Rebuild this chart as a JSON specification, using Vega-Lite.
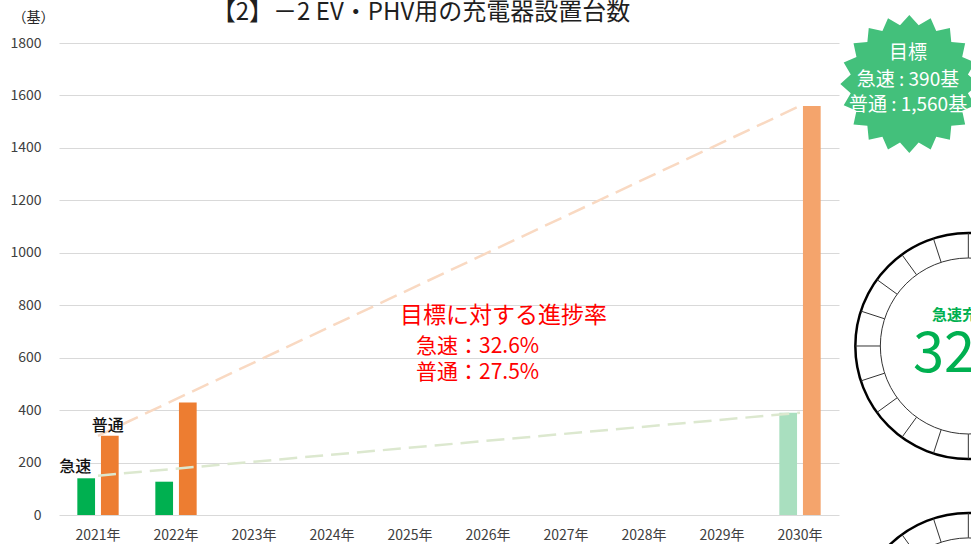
{
  "$schema": "https://vega.github.io/schema/vega-lite/v6.json",
  "width": 780,
  "height": 472,
  "autosize": "none",
  "padding": {"left": 59, "top": 43, "right": 132, "bottom": 29},
  "background": "white",
  "config": {
    "font": "Noto Sans CJK JP",
    "view": {"stroke": null},
    "axis": {"grid": true, "gridColor": "#d9d9d9", "gridWidth": 1, "domain": false, "ticks": false, "labelColor": "#404040", "labelFontSize": 14}
  },
  "title": {
    "text": "【2】－2 EV・PHV用の充電器設置台数",
    "fontSize": 24,
    "fontWeight": "normal",
    "color": "#1f1f1f",
    "offset": 0,
    "dy": 15,
    "dx": -28,
    "anchor": "middle"
  },
  "datasets": {
    "bars": [
      {"year": "2021年", "type": "急速", "kind": "急速", "value": 140},
      {"year": "2021年", "type": "普通", "kind": "普通", "value": 302},
      {"year": "2022年", "type": "急速", "kind": "急速", "value": 127},
      {"year": "2022年", "type": "普通", "kind": "普通", "value": 429},
      {"year": "2030年", "type": "急速", "kind": "急速目標", "value": 390},
      {"year": "2030年", "type": "普通", "kind": "普通目標", "value": 1560}
    ],
    "lines": [
      {"year": "2021年", "type": "急速", "value": 150},
      {"year": "2030年", "type": "急速", "value": 390},
      {"year": "2021年", "type": "普通", "value": 302},
      {"year": "2030年", "type": "普通", "value": 1560}
    ]
  },
  "encoding": {
    "x": {
      "field": "year",
      "type": "nominal",
      "scale": {"domain": ["2021年", "2022年", "2023年", "2024年", "2025年", "2026年", "2027年", "2028年", "2029年", "2030年"], "paddingInner": 0.47, "paddingOuter": 0.235},
      "axis": {"title": null, "labelAngle": 0, "grid": false, "labelPadding": 13}
    },
    "y": {
      "field": "value",
      "type": "quantitative",
      "scale": {"domain": [0, 1800]},
      "axis": {"values": [0, 200, 400, 600, 800, 1000, 1200, 1400, 1600, 1800], "format": "d", "title": "（基）", "titleAngle": 0, "titleAlign": "left", "titleBaseline": "middle", "titleX": -47, "titleY": -26, "titleFontSize": 14, "titleFontWeight": "normal", "titleColor": "#262626", "labelPadding": 18}
    }
  },
  "layer": [
    {
      "data": {"name": "bars"},
      "mark": {"type": "bar"},
      "encoding": {
        "xOffset": {"field": "type", "type": "nominal", "scale": {"domain": ["急速", "普通"], "paddingInner": 0.25}},
        "color": {"field": "kind", "type": "nominal", "scale": {"domain": ["急速", "普通", "急速目標", "普通目標"], "range": ["#00B050", "#ED7D31", "#A9DFBF", "#F4A46C"]}, "legend": null}
      }
    },
    {
      "data": {"name": "lines"},
      "mark": {"type": "line", "strokeDash": [18, 8], "strokeWidth": 2.5},
      "encoding": {
        "stroke": {"field": "type", "type": "nominal", "scale": {"domain": ["急速", "普通"], "range": ["#dce8cf", "#f9d9c2"]}, "legend": null}
      }
    },
    {
      "data": {"values": [{"year": "2021年", "type": "普通", "value": 302, "label": "普通"}]},
      "mark": {"type": "text", "baseline": "bottom", "dx": -2, "dy": -2, "fontSize": 16, "fontWeight": 500, "color": "#111"},
      "encoding": {"xOffset": {"field": "type", "type": "nominal"}, "text": {"field": "label"}}
    },
    {
      "data": {"values": [{"year": "2021年", "type": "急速", "value": 140, "label": "急速"}]},
      "mark": {"type": "text", "baseline": "bottom", "dx": -11, "dy": -3, "fontSize": 16, "fontWeight": 500, "color": "#111"},
      "encoding": {"xOffset": {"field": "type", "type": "nominal"}, "text": {"field": "label"}}
    },
    {
      "data": {"values": [{"year": "2025年", "value": 759, "label": "目標に対する進捗率"}]},
      "mark": {"type": "text", "align": "left", "baseline": "middle", "dx": -10, "fontSize": 23, "color": "#FF0000"},
      "encoding": {"text": {"field": "label"}}
    },
    {
      "data": {"values": [{"year": "2025年", "value": 642, "label": "急速：32.6%"}, {"year": "2025年", "value": 540, "label": "普通：27.5%"}]},
      "mark": {"type": "text", "align": "left", "baseline": "middle", "dx": 6, "fontSize": 21, "color": "#FF0000"},
      "encoding": {"text": {"field": "label"}}
    },
    {
      "data": {"values": [{"year": "2030年", "value": 1644}]},
      "mark": {"type": "point", "filled": true, "color": "#43C07B", "opacity": 1, "size": 19044, "shape": "M0,-1L.135,-.849L.309,-.951L.390,-.766L.588,-.809L.608,-.608L.809,-.588L.766,-.390L.951,-.309L.849,-.135L1,0L.849,.135L.951,.309L.766,.390L.809,.588L.608,.608L.588,.809L.390,.766L.309,.951L.135,.849L0,1L-.135,.849L-.309,.951L-.390,.766L-.588,.809L-.608,.608L-.809,.588L-.766,.390L-.951,.309L-.849,.135L-1,0L-.849,-.135L-.951,-.309L-.766,-.390L-.809,-.588L-.608,-.608L-.588,-.809L-.390,-.766L-.309,-.951L-.135,-.849Z"},
      "encoding": {"xOffset": {"value": 130}}
    },
    {
      "data": {"values": [{"year": "2030年", "value": 1762, "label": "目標"}, {"year": "2030年", "value": 1659, "label": "急速 : 390基"}, {"year": "2030年", "value": 1564, "label": "普通 : 1,560基"}]},
      "mark": {"type": "text", "align": "center", "baseline": "middle", "dx": 108, "fontSize": 19, "color": "white"},
      "encoding": {"text": {"field": "label"}}
    },
    {
      "data": {"values": [{"year": "2030年", "value": 644.5}, {"year": "2030年", "value": -423}]},
      "mark": {"type": "point", "shape": "circle", "filled": false, "stroke": "#000", "strokeWidth": 2.5, "opacity": 1, "size": 51076},
      "encoding": {"xOffset": {"value": 189}}
    },
    {
      "data": {"values": [{"year": "2030年", "value": 644.5}, {"year": "2030年", "value": -423}]},
      "mark": {"type": "point", "shape": "circle", "filled": false, "stroke": "#333", "strokeWidth": 1, "opacity": 1, "size": 30976},
      "encoding": {"xOffset": {"value": 189}}
    },
    {
      "data": {"values": [{"year": "2030年", "value": 644.5}, {"year": "2030年", "value": -423}]},
      "mark": {"type": "point", "filled": false, "stroke": "#333", "strokeWidth": 1, "opacity": 1, "size": 51076, "shape": "M1,0L.78,0M.951,.309L.742,.241M.809,.588L.631,.459M.588,.809L.459,.631M.309,.951L.241,.742M0,1L0,.78M-.309,.951L-.241,.742M-.588,.809L-.459,.631M-.809,.588L-.631,.459M-.951,.309L-.742,.241M-1,0L-.78,0M-.951,-.309L-.742,-.241M-.809,-.588L-.631,-.459M-.588,-.809L-.459,-.631M-.309,-.951L-.241,-.742M0,-1L0,-.78M.309,-.951L.241,-.742M.588,-.809L.459,-.631M.809,-.588L.631,-.459M.951,-.309L.742,-.241"},
      "encoding": {"xOffset": {"value": 189}}
    },
    {
      "data": {"values": [{"year": "2030年", "value": 763, "label": "急速充電器"}]},
      "mark": {"type": "text", "align": "left", "baseline": "middle", "dx": 132, "fontSize": 15, "fontWeight": "bold", "color": "#00B050"},
      "encoding": {"text": {"field": "label"}}
    },
    {
      "data": {"values": [{"year": "2030年", "value": 610, "label": "32.6%"}]},
      "mark": {"type": "text", "align": "left", "baseline": "middle", "dx": 113, "fontSize": 56, "color": "#00B050"},
      "encoding": {"text": {"field": "label"}}
    }
  ]
}
